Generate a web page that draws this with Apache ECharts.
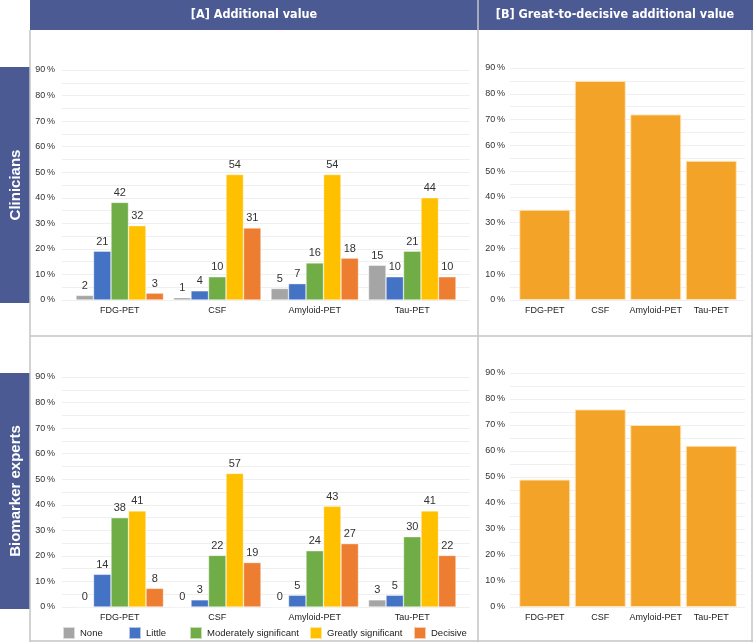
<!DOCTYPE html>
<html>
<head>
<meta charset="utf-8">
<script src="https://cdn.jsdelivr.net/npm/echarts@6/dist/echarts.min.js"></script>
<style>html,body{margin:0;padding:0;background:#fff}#c{width:753px;height:642px}</style>
</head>
<body>
<div id="c"></div>
<script>
// ---- data ----
var categories = ['FDG-PET', 'CSF', 'Amyloid-PET', 'Tau-PET'];
var levels = ['None', 'Little', 'Moderately significant', 'Greatly significant', 'Decisive'];
var yTicks = [0, 10, 20, 30, 40, 50, 60, 70, 80, 90];

// Clinicians: respondent counts (bar labels) and share in % (bar heights)
var clinNoneCount = [2, 1, 5, 15];
var clinLittleCount = [21, 4, 7, 10];
var clinModerateCount = [42, 10, 16, 21];
var clinGreatCount = [32, 54, 54, 44];
var clinDecisiveCount = [3, 31, 18, 10];
var clinNonePct = [1.8, 0.9, 4.5, 13.6];
var clinLittlePct = [19.1, 3.6, 6.4, 9.1];
var clinModeratePct = [38.2, 9.1, 14.5, 19.1];
var clinGreatPct = [29.1, 49.1, 49.1, 40.0];
var clinDecisivePct = [2.7, 28.2, 16.4, 9.1];

// Biomarker experts
var bioNoneCount = [0, 0, 0, 3];
var bioLittleCount = [14, 3, 5, 5];
var bioModerateCount = [38, 22, 24, 30];
var bioGreatCount = [41, 57, 43, 41];
var bioDecisiveCount = [8, 19, 27, 22];
var bioNonePct = [0, 0, 0, 2.8];
var bioLittlePct = [12.8, 2.8, 4.6, 4.6];
var bioModeratePct = [34.9, 20.2, 22.0, 27.5];
var bioGreatPct = [37.6, 52.3, 39.4, 37.6];
var bioDecisivePct = [7.3, 17.4, 24.8, 20.2];

// Great-to-decisive additional value (%)
var clinGreatDecisive = [35, 85, 72, 54];
var bioGreatDecisive = [49, 76, 70, 62];

// ---- styling ----
var FONT = 'Liberation Sans, Arial, sans-serif';
var levelColors = ['#a5a5a5', '#4472c4', '#70ad47', '#ffc000', '#ed7d31'];
var bColor = '#f4a329';
var headerBlue = '#4b5a93';
var borderGray = '#c4c4c4';

var chart = echarts.init(document.getElementById('c'), null, {renderer: 'canvas'});

var panels = [
  {bg: {left: 62, width: 408, top: 70, height: 230}, bars: {left: 71, width: 390, top: 70, height: 230}},
  {bg: {left: 62, width: 408, top: 377, height: 230}, bars: {left: 71, width: 390, top: 377, height: 230}},
  {bg: {left: 510, width: 235, top: 68, height: 232}, bars: {left: 517, width: 222, top: 68, height: 232}},
  {bg: {left: 510, width: 235, top: 373, height: 234}, bars: {left: 517, width: 222, top: 373, height: 234}}
];

var grids = [], xAxes = [], yAxes = [];
panels.forEach(function (p, i) {
  // background grid: gridlines + y labels
  grids.push(p.bg);
  xAxes.push({type: 'value', gridIndex: grids.length - 1, show: false, min: 0, max: 1});
  yAxes.push({
    type: 'value', gridIndex: grids.length - 1, min: 0, max: 90, interval: 5,
    axisLine: {show: false}, axisTick: {show: false},
    splitLine: {show: true, lineStyle: {color: '#efefef', width: 1}},
    axisLabel: {
      margin: i < 2 ? 7 : 5, fontSize: 9, color: '#333', fontFamily: FONT,
      formatter: function (v) { return yTicks.indexOf(v) >= 0 ? v + '\u2009%' : ''; }
    }
  });
  // bar grid
  grids.push(p.bars);
  xAxes.push({
    type: 'category', gridIndex: grids.length - 1, data: categories,
    axisLine: {show: false}, axisTick: {show: false},
    axisLabel: {margin: 6, fontSize: 9, color: '#222', fontFamily: FONT, interval: 0}
  });
  yAxes.push({type: 'value', gridIndex: grids.length - 1, min: 0, max: 90, show: false, splitLine: {show: false}});
});

function aSeries(name, color, pct, cnt, axisIdx) {
  return {
    type: 'bar', name: name, xAxisIndex: axisIdx, yAxisIndex: axisIdx,
    data: pct, barWidth: 17.5, barGap: '0%',
    itemStyle: {color: color, borderColor: 'rgba(255,255,255,0.6)', borderWidth: 0.6},
    label: {
      show: true, position: 'top', distance: 4, fontSize: 11, color: '#333', fontFamily: FONT,
      formatter: function (p) { return String(cnt[p.dataIndex]); }
    },
    emphasis: {disabled: true}
  };
}

var clinPcts = [clinNonePct, clinLittlePct, clinModeratePct, clinGreatPct, clinDecisivePct];
var clinCounts = [clinNoneCount, clinLittleCount, clinModerateCount, clinGreatCount, clinDecisiveCount];
var bioPcts = [bioNonePct, bioLittlePct, bioModeratePct, bioGreatPct, bioDecisivePct];
var bioCounts = [bioNoneCount, bioLittleCount, bioModerateCount, bioGreatCount, bioDecisiveCount];

var series = [];
levels.forEach(function (lv, k) { series.push(aSeries(lv, levelColors[k], clinPcts[k], clinCounts[k], 1)); });
levels.forEach(function (lv, k) { series.push(aSeries(lv, levelColors[k], bioPcts[k], bioCounts[k], 3)); });
[[clinGreatDecisive, 5], [bioGreatDecisive, 7]].forEach(function (d) {
  series.push({
    type: 'bar', name: 'Great-to-decisive', xAxisIndex: d[1], yAxisIndex: d[1], data: d[0],
    barWidth: 51, itemStyle: {color: bColor, borderColor: 'rgba(255,230,190,0.9)', borderWidth: 1},
    emphasis: {disabled: true}
  });
});

var legendLefts = [62, 128, 189, 309, 413];
var legends = levels.map(function (lv, k) {
  return {
    data: [lv], left: legendLefts[k], top: 626, icon: 'rect', itemWidth: 12, itemHeight: 12, itemGap: 5,
    selectedMode: false, padding: 0,
    textStyle: {fontSize: 9.5, color: '#222', fontFamily: FONT}
  };
});

var graphic = [
  {type: 'rect', shape: {x: 30, y: 0, width: 723, height: 30}, style: {fill: headerBlue}, z: 1},
  {type: 'text', x: 254, y: 15, style: {text: '[A] Additional value', fill: '#fff', font: 'bold 12.5px DejaVu Sans Condensed, DejaVu Sans, sans-serif', textAlign: 'center', textVerticalAlign: 'middle'}, z: 3},
  {type: 'text', x: 615, y: 15, style: {text: '[B] Great-to-decisive additional value', fill: '#fff', font: 'bold 12.5px DejaVu Sans Condensed, DejaVu Sans, sans-serif', textAlign: 'center', textVerticalAlign: 'middle'}, z: 3},
  {type: 'rect', shape: {x: 0, y: 67, width: 30, height: 236}, style: {fill: headerBlue}, z: 1},
  {type: 'rect', shape: {x: 0, y: 373, width: 30, height: 236}, style: {fill: headerBlue}, z: 1},
  {type: 'text', x: 16, y: 185, rotation: Math.PI / 2, style: {text: 'Clinicians', fill: '#fff', font: 'bold 15px Liberation Sans, Arial, sans-serif', textAlign: 'center', textVerticalAlign: 'middle'}, z: 3},
  {type: 'text', x: 16, y: 491, rotation: Math.PI / 2, style: {text: 'Biomarker experts', fill: '#fff', font: 'bold 15px Liberation Sans, Arial, sans-serif', textAlign: 'center', textVerticalAlign: 'middle'}, z: 3},
  {type: 'line', shape: {x1: 30, y1: 30, x2: 30, y2: 642}, style: {stroke: borderGray, lineWidth: 1.5}, z: 2},
  {type: 'line', shape: {x1: 478, y1: 0, x2: 478, y2: 642}, style: {stroke: borderGray, lineWidth: 1.5}, z: 2},
  {type: 'line', shape: {x1: 30, y1: 336, x2: 753, y2: 336}, style: {stroke: borderGray, lineWidth: 1.5}, z: 2},
  {type: 'line', shape: {x1: 752, y1: 30, x2: 752, y2: 642}, style: {stroke: borderGray, lineWidth: 1.5}, z: 2},
  {type: 'line', shape: {x1: 30, y1: 641, x2: 753, y2: 641}, style: {stroke: borderGray, lineWidth: 1.5}, z: 2}
];

chart.setOption({
  animation: false,
  backgroundColor: '#fff',
  textStyle: {fontFamily: FONT},
  grid: grids, xAxis: xAxes, yAxis: yAxes,
  series: series, legend: legends, graphic: graphic
});
</script>
</body>
</html>
